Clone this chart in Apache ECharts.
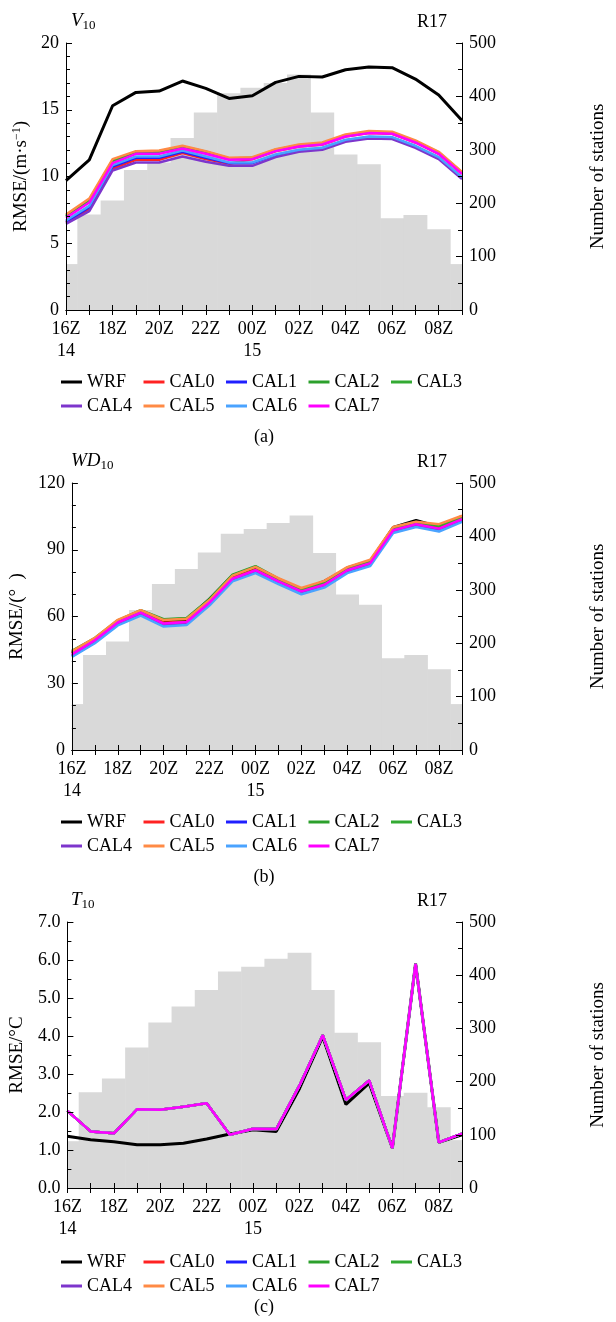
<!DOCTYPE html>
<html>
<head>
<meta charset="utf-8">
<script src="https://cdn.jsdelivr.net/npm/echarts@6/dist/echarts.min.js"></script>
<style>
html,body{margin:0;padding:0;background:#fff}
#main{width:616px;height:1322px}
</style>
</head>
<body>
<div id="main"></div>
<script>
// hours of the run, day label under 16Z and 00Z
var hours = ['16Z','17Z','18Z','19Z','20Z','21Z','22Z','23Z','00Z','01Z','02Z','03Z','04Z','05Z','06Z','07Z','08Z','09Z'];
var dayLabels = {'16Z':'14','00Z':'15'};
var names = ['WRF','CAL0','CAL1','CAL2','CAL3','CAL4','CAL5','CAL6','CAL7'];
var colors = ['#000000','#ff2222','#1f1fff','#2ca02c','#33aa33','#7d35cc','#ff8a45','#4aa3ff','#ff00ff'];

// number of stations (grey bars)
var stationsV  = [86,179,205,262,276,322,370,406,416,425,441,370,291,273,172,178,151,86];
var stationsWD = [86,178,203,262,311,339,370,405,414,425,439,369,291,272,172,178,151,86];
var stationsT  = [88,180,206,264,311,341,372,407,416,431,442,372,292,274,173,179,152,90];

// (a) V10 RMSE
var wrfV  = [9.7,11.25,15.3,16.3,16.4,17.15,16.6,15.85,16.05,17.05,17.5,17.45,18.0,18.2,18.15,17.3,16.1,14.2];
var cal0V = [6.55,7.55,10.6,11.25,11.25,11.75,11.3,10.95,11.3,11.9,12.25,12.4,13.0,13.25,13.2,12.55,11.7,10.2];
var cal1V = [6.6,7.7,10.75,11.4,11.4,11.85,11.4,11.0,11.0,11.6,11.95,12.1,12.7,12.95,12.9,12.25,11.4,9.9];
var cal2V = [7.05,8.25,11.2,11.85,11.9,12.25,11.85,11.35,11.4,12.0,12.35,12.5,13.1,13.35,13.3,12.65,11.8,10.3];
var cal3V = [7.0,8.2,11.15,11.8,11.85,12.2,11.8,11.3,11.35,11.95,12.3,12.45,13.05,13.3,13.25,12.6,11.75,10.25];
var cal4V = [6.45,7.4,10.45,11.05,11.05,11.5,11.1,10.8,10.8,11.45,11.85,12.0,12.6,12.85,12.8,12.15,11.3,9.8];
var cal5V = [7.15,8.35,11.3,11.9,11.95,12.3,11.9,11.4,11.45,12.05,12.4,12.55,13.15,13.4,13.35,12.7,11.85,10.35];
var cal6V = [6.7,7.8,10.85,11.5,11.5,11.95,11.5,11.05,11.05,11.65,12.0,12.15,12.75,13.0,12.95,12.3,11.45,9.95];
var cal7V = [6.9,8.05,11.0,11.7,11.7,12.1,11.7,11.25,11.3,11.9,12.25,12.4,13.0,13.25,13.2,12.55,11.7,10.2];

// (b) WD10 RMSE
var wrfWD  = [43.6,49.8,57.9,62.4,58.0,58.5,67.8,78.3,81.8,76.6,72.0,75.8,81.6,84.7,100.0,103.2,100.3,105.0];
var cal0WD = [43.3,49.6,57.6,62.0,57.2,57.8,66.7,77.3,81.1,76.1,71.6,74.6,81.1,84.3,99.1,101.8,99.9,104.1];
var cal1WD = [42.2,48.4,56.5,60.9,56.0,56.7,65.5,76.3,80.0,75.0,70.5,73.5,80.0,83.2,98.0,100.7,98.7,103.0];
var cal2WD = [44.6,50.3,58.3,62.8,58.8,59.3,67.9,78.8,82.6,77.0,72.4,75.6,82.0,85.1,99.9,102.5,100.9,104.9];
var cal3WD = [44.2,50.1,58.1,62.6,58.5,59.0,67.6,78.5,82.3,76.8,72.2,75.4,81.8,84.9,99.7,102.3,100.7,104.7];
var cal4WD = [42.5,48.7,56.8,61.2,56.3,57.0,65.8,76.6,80.3,75.3,70.8,73.8,80.3,83.5,98.3,101.0,99.0,103.3];
var cal5WD = [44.3,50.4,58.5,62.9,58.4,59.0,67.4,78.4,82.3,77.2,72.8,76.0,82.2,85.5,100.2,102.6,101.5,105.3];
var cal6WD = [41.8,48.0,56.0,60.4,55.5,56.2,65.0,75.8,79.5,74.6,70.0,73.0,79.5,82.7,97.5,100.2,98.2,102.5];
var cal7WD = [43.0,49.3,57.3,61.7,56.8,57.5,66.3,77.0,80.8,75.8,71.3,74.3,80.8,84.0,98.8,101.5,99.5,103.8];

// (c) T10 RMSE, the CAL runs lie on top of each other
var wrfT = [1.36,1.27,1.22,1.14,1.14,1.18,1.29,1.42,1.53,1.49,2.62,3.98,2.2,2.76,1.05,5.9,1.2,1.4];
var calT = [2.03,1.49,1.44,2.07,2.06,2.14,2.23,1.4,1.56,1.55,2.7,4.02,2.32,2.83,1.05,5.9,1.2,1.43];

var F = 'Liberation Serif';
var panels = [
    {top:43, height:267, key:'V', sub:'10', max:20, step:5, minor:5, dec:0,
     yname:'{n|RMSE/(m·s}{sup|−1}{n|)}', bars:stationsV,
     lines:[wrfV,cal0V,cal1V,cal2V,cal3V,cal4V,cal5V,cal6V,cal7V], tag:'(a)', tagY:437, legY:[382,406]},
    {top:483, height:267, key:'WD', sub:'10', max:120, step:30, minor:3, dec:0,
     yname:'{n|RMSE/(°  )}', bars:stationsWD,
     lines:[wrfWD,cal0WD,cal1WD,cal2WD,cal3WD,cal4WD,cal5WD,cal6WD,cal7WD], tag:'(b)', tagY:877, legY:[822,846]},
    {top:922, height:266, key:'T', sub:'10', max:7, step:1, minor:2, dec:1,
     yname:'{n|RMSE/°C}', bars:stationsT,
     lines:[wrfT,calT,calT,calT,calT,calT,calT,calT,calT], tag:'(c)', tagY:1307, legY:[1262,1286]}
];

// grey histogram steps, one hour wide, cut at the frame
function renderStep(params, api) {
    var idx = api.value(0);
    var top = api.coord([idx, api.value(1)]);
    var base = api.coord([idx, 0]);
    var w = api.size([1, 0])[0];
    var cs = params.coordSys;
    var r = echarts.graphic.clipRectByRect(
        {x: top[0] - w / 2 - 0.3, y: top[1], width: w + 0.6, height: base[1] - top[1]},
        {x: cs.x, y: cs.y, width: cs.width, height: cs.height});
    return r && {type: 'rect', shape: r, style: {fill: '#d9d9d9'}};
}

var option = {
    animation: false,
    backgroundColor: '#fff',
    textStyle: {fontFamily: F},
    grid: [], xAxis: [], yAxis: [], series: [], legend: [], title: [], graphic: []
};

panels.forEach(function (p, k) {
    option.grid.push({left:66, top:p.top, width:397, height:p.height});
    option.xAxis.push({
        type:'category', gridIndex:k, data:hours, boundaryGap:false, position:'bottom',
        axisLine:{lineStyle:{color:'#000',width:1}},
        axisTick:{inside:true, length:5, interval:0, lineStyle:{color:'#000'}},
        axisLabel:{interval:1, color:'#000', fontSize:18, fontFamily:F, margin:8, lineHeight:22,
            formatter:function (v) { return dayLabels[v] ? v + '\n' + dayLabels[v] : v; }},
        splitLine:{show:false}, z:5
    });
    option.xAxis.push({
        type:'category', gridIndex:k, data:hours, boundaryGap:false, position:'top',
        axisLine:{lineStyle:{color:'#000',width:1}},
        axisTick:{inside:true, length:5, interval:0, lineStyle:{color:'#000'}},
        axisLabel:{show:false}, splitLine:{show:false}, z:5
    });
    option.yAxis.push({
        type:'value', gridIndex:k, min:0, max:p.max, interval:p.step, position:'left',
        name:p.yname, nameLocation:'middle', nameRotate:90, nameGap:25,
        nameTextStyle:{rich:{
            n:{fontSize:19, fontFamily:F, color:'#000'},
            sup:{fontSize:12, fontFamily:F, color:'#000', padding:[0,0,8,0]}
        }},
        axisLine:{show:true, lineStyle:{color:'#000',width:1}},
        axisTick:{show:true, inside:true, length:6, lineStyle:{color:'#000'}},
        minorTick:{show:true, splitNumber:p.minor, length:4, lineStyle:{color:'#000'}},
        axisLabel:{color:'#000', fontSize:18, fontFamily:F, margin:7,
            formatter:function (v) { return v.toFixed(p.dec); }},
        splitLine:{show:false}, z:5
    });
    option.yAxis.push({
        type:'value', gridIndex:k, min:0, max:500, interval:100, position:'right',
        name:'Number of stations', nameLocation:'middle', nameRotate:90, nameGap:127,
        nameTextStyle:{fontSize:19, fontFamily:F, color:'#000'},
        axisLine:{show:true, lineStyle:{color:'#000',width:1}},
        axisTick:{show:true, inside:true, length:6, lineStyle:{color:'#000'}},
        minorTick:{show:true, splitNumber:2, length:4, lineStyle:{color:'#000'}},
        axisLabel:{color:'#000', fontSize:18, fontFamily:F, margin:7},
        splitLine:{show:false}, z:5
    });

    option.series.push({
        type:'custom', name:'stations' + k, xAxisIndex:2*k, yAxisIndex:2*k+1,
        data:p.bars.map(function (v, i) { return [i, v]; }),
        encode:{x:0, y:1}, renderItem:renderStep, silent:true, z:1
    });
    names.forEach(function (n, i) {
        option.series.push({
            type:'line', name:n, xAxisIndex:2*k, yAxisIndex:2*k, data:p.lines[i],
            symbol:'none', clip:true, z:2,
            lineStyle:{color:colors[i], width:i === 0 ? 3 : 2.5},
            itemStyle:{color:colors[i]}
        });
        var row = i < 5 ? 0 : 1;
        var col = i < 5 ? i : i - 5;
        option.legend.push({
            data:[n], left:61 + col * 82.5, top:p.legY[row] - 9, padding:0,
            icon:'rect', itemWidth:21, itemHeight:3, selectedMode:false,
            textStyle:{fontSize:18, fontFamily:F, color:'#000'}
        });
    });

    option.title.push({
        text:'{i|' + p.key + '}{s|' + p.sub + '}', left:71, top:p.top - 33, padding:0,
        textStyle:{fontWeight:'normal', rich:{
            i:{fontSize:19, fontStyle:'italic', fontWeight:'normal', fontFamily:F, color:'#000'},
            s:{fontSize:13, fontWeight:'normal', fontFamily:F, color:'#000', padding:[9,0,0,0]}
        }}
    });
    option.title.push({
        text:'R17', right:169, top:p.top - 30, padding:0,
        textStyle:{fontSize:18, fontWeight:'normal', fontFamily:F, color:'#000'}
    });
    option.graphic.push({
        type:'text', x:264, y:p.tagY,
        style:{text:p.tag, font:'18px "Liberation Serif"', fill:'#000', textAlign:'center', textVerticalAlign:'middle'}
    });
});

var chart = echarts.init(document.getElementById('main'));
chart.setOption(option);
</script>
</body>
</html>
